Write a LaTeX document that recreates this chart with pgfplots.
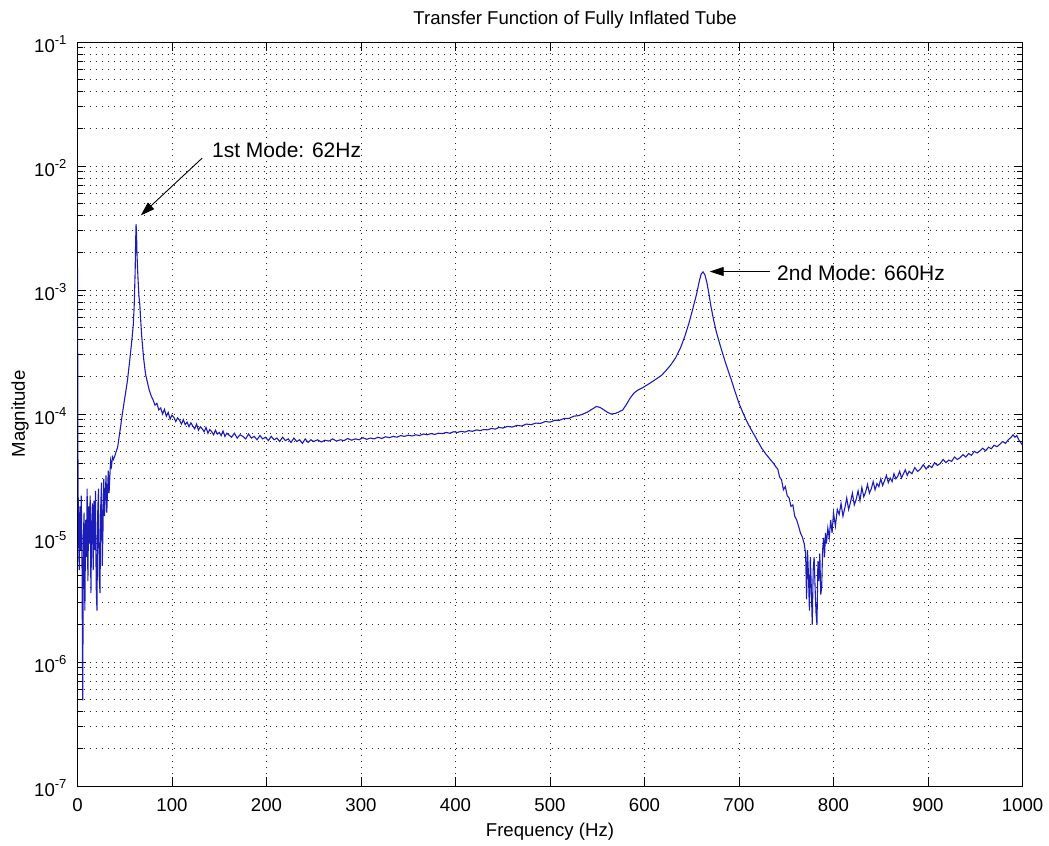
\documentclass[border=0pt]{standalone}
\usepackage{fontspec}
\setmainfont{Liberation Sans}
\usepackage{pgfplots}
\pgfplotsset{compat=1.18}
\usetikzlibrary{arrows.meta}
\definecolor{mblue}{RGB}{28,28,185}
\pgfplotstableread{
x y
0 1.5e-3
0.5 3.6e-5
1 1.2e-5
1.8 5.5e-6
2.5 1.8e-5
3.2 8e-6
4 2.2e-5
4.8 6e-6
5.5 4.9e-7
6.3 1.1e-5
7 1.6e-5
7.8 2.6e-6
8.6 1.4e-5
9.4 7e-6
10.2 2.5e-5
11 4.5e-6
11.8 1.8e-5
12.6 9e-6
13.4 2.2e-5
14.2 3.6e-6
15 1.3e-5
15.8 1.9e-5
16.6 5.5e-6
17.4 2e-5
18.2 8e-6
19 2.4e-5
19.8 4e-6
20.6 2.6e-6
21.4 1.6e-5
22.2 2.5e-5
23 5e-6
23.8 3.6e-6
24.6 1.8e-5
25.4 2.8e-5
26.2 6e-6
27 1.2e-5
27.8 3e-5
28.6 1.5e-5
29.4 2.2e-5
30.2 3.2e-5
31 1.6e-5
31.8 2.4e-5
32.6 3.5e-5
33.4 2.3e-5
34.2 3.1e-5
35 4.2e-5
36 3.8e-5
37 4.5e-5
38 4.3e-5
39.5 4.6e-5
41 5e-5
42.5 5.4e-5
44 6.5e-5
45.5 7.8e-5
47 9.5e-5
49 1.2e-4
51 1.5e-4
53 1.9e-4
55 2.6e-4
57 3.6e-4
59 5.2e-4
60 7.5e-4
61 1.4e-3
61.5 2.4e-3
62 3.4e-3
62.5 2.8e-3
63 1.9e-3
64 1.25e-3
65 9e-4
66 7.5e-4
67 5.5e-4
68 4.2e-4
70 2.8e-4
72 2.1e-4
74 1.8e-4
76 1.55e-4
78 1.4e-4
80 1.3e-4
82 1.18e-4
84 1.22e-4
86 1.08e-4
88 1.12e-4
90 1.0e-4
92 1.09e-4
94 9.6e-5
96 1.03e-4
98 9.1e-5
100 9.8e-5
102 9.4e-5
104 8.7e-5
106 9.3e-5
108 8.9e-5
110 8.3e-5
112 9.0e-5
114 8.2e-5
116 8.6e-5
118 7.9e-5
120 8.5e-5
122 8.0e-5
124 7.6e-5
126 8.3e-5
128 7.4e-5
130 7.9e-5
132 7.6e-5
134 7.2e-5
136 7.8e-5
138 7.0e-5
140 7.5e-5
142 7.2e-5
144 6.8e-5
146 7.4e-5
148 6.9e-5
150 7.1e-5
152 6.7e-5
154 7.3e-5
156 6.6e-5
158 7.0e-5
160 6.8e-5
163 6.5e-5
166 7.0e-5
169 6.4e-5
172 6.8e-5
175 6.6e-5
178 6.3e-5
181 6.9e-5
184 6.4e-5
187 6.6e-5
190 6.2e-5
193 6.7e-5
196 6.3e-5
199 6.5e-5
202 6.1e-5
205 6.6e-5
208 6.2e-5
211 6.4e-5
214 6.0e-5
217 6.5e-5
220 6.1e-5
223 6.3e-5
226 5.9e-5
229 6.4e-5
232 6.0e-5
235 6.2e-5
238 5.8e-5
241 6.3e-5
244 5.9e-5
247 6.2e-5
250 6.0e-5
254 6.2e-5
258 5.95e-5
262 6.15e-5
266 6.05e-5
270 6.3e-5
274 6.05e-5
278 6.2e-5
282 6.1e-5
286 6.35e-5
290 6.15e-5
294 6.3e-5
298 6.2e-5
302 6.45e-5
306 6.25e-5
310 6.4e-5
314 6.3e-5
318 6.5e-5
322 6.35e-5
326 6.55e-5
330 6.45e-5
334 6.6e-5
338 6.5e-5
342 6.7e-5
346 6.6e-5
350 6.75e-5
354 6.65e-5
358 6.8e-5
362 6.7e-5
366 6.9e-5
370 6.8e-5
374 6.95e-5
378 6.85e-5
382 7.0e-5
386 6.95e-5
390 7.1e-5
394 7.0e-5
398 7.2e-5
402 7.1e-5
406 7.25e-5
410 7.15e-5
414 7.35e-5
418 7.25e-5
422 7.45e-5
426 7.35e-5
430 7.5e-5
434 7.45e-5
438 7.65e-5
442 7.55e-5
446 7.8e-5
450 7.7e-5
455 7.95e-5
460 7.85e-5
465 8.1e-5
470 8.0e-5
475 8.3e-5
480 8.2e-5
485 8.45e-5
490 8.4e-5
495 8.7e-5
500 8.6e-5
505 8.9e-5
510 8.9e-5
515 9.2e-5
520 9.2e-5
525 9.6e-5
530 9.7e-5
535 1.0e-4
540 1.04e-4
545 1.1e-4
549 1.15e-4
553 1.13e-4
557 1.08e-4
561 1.03e-4
565 1.0e-4
569 1.01e-4
573 1.04e-4
577 1.08e-4
581 1.2e-4
585 1.35e-4
589 1.48e-4
593 1.56e-4
598 1.63e-4
603 1.72e-4
608 1.82e-4
613 1.93e-4
618 2.05e-4
623 2.25e-4
628 2.5e-4
633 2.85e-4
638 3.4e-4
643 4.3e-4
647 5.4e-4
651 7e-4
655 9.2e-4
658 1.18e-3
660 1.35e-3
662 1.4e-3
664 1.32e-3
666 1.15e-3
668 9.5e-4
670 7.6e-4
673 5.8e-4
676 4.6e-4
680 3.6e-4
684 2.85e-4
688 2.3e-4
692 1.87e-4
696 1.5e-4
700 1.22e-4
704 1.03e-4
708 8.8e-5
712 7.7e-5
716 6.8e-5
720 6.0e-5
724 5.3e-5
728 4.8e-5
732 4.4e-5
736 4.05e-5
739 3.75e-5
741 3.6e-5
743 3.1e-5
745 2.95e-5
747 2.45e-5
749 2.6e-5
751 2.2e-5
753 2.1e-5
755 1.8e-5
757 1.85e-5
759 1.5e-5
761 1.4e-5
763 1.25e-5
765 1.1e-5
767 1.02e-5
769 9.0e-6
770.5 7.5e-6
771.5 3.2e-6
772.5 8e-6
773.5 5e-6
774.5 2.6e-6
775.5 7e-6
776.5 4e-6
777.5 2.0e-6
778.5 5.5e-6
779.5 7e-6
780.5 4e-6
781.5 2.5e-6
782.5 2.0e-6
783.5 6.5e-6
784.5 4.5e-6
785.5 7.5e-6
786.5 3.5e-6
787.5 4.0e-6
788.5 8e-6
789.5 1.0e-5
790.5 7e-6
791.5 1.1e-5
792.5 9e-6
794 1.2e-5
795.5 1.0e-5
797 1.4e-5
798.5 1.1e-5
800 1.6e-5
802 1.25e-5
804 1.7e-5
806 1.55e-5
808 1.9e-5
810 1.5e-5
812 1.75e-5
814 2.1e-5
816 1.7e-5
818 1.95e-5
820 2.3e-5
822 1.85e-5
824 2.05e-5
826 2.4e-5
828 2.0e-5
830 2.55e-5
832 2.15e-5
834 2.35e-5
836 2.7e-5
838 2.3e-5
840 2.5e-5
842 2.85e-5
844 2.45e-5
846 2.75e-5
848 2.6e-5
850 3.0e-5
852 2.65e-5
854 2.9e-5
856 3.2e-5
858 2.8e-5
860 3.05e-5
862 2.85e-5
864 3.3e-5
866 3.0e-5
868 3.15e-5
870 3.45e-5
872 3.05e-5
874 3.3e-5
876 3.55e-5
878 3.2e-5
880 3.45e-5
883 3.3e-5
886 3.7e-5
889 3.45e-5
892 3.6e-5
895 3.9e-5
898 3.6e-5
901 3.85e-5
904 3.7e-5
907 4.05e-5
910 3.85e-5
913 4.0e-5
916 4.3e-5
919 4.05e-5
922 4.25e-5
925 4.15e-5
928 4.5e-5
931 4.3e-5
934 4.45e-5
937 4.7e-5
940 4.5e-5
943 4.8e-5
946 4.65e-5
949 5.0e-5
952 4.85e-5
955 5.05e-5
958 5.3e-5
961 5.05e-5
964 5.4e-5
967 5.25e-5
970 5.6e-5
973 5.45e-5
976 5.7e-5
979 6.0e-5
982 5.8e-5
985 6.2e-5
988 6.5e-5
990 6.8e-5
992 6.5e-5
994 6.7e-5
996 6.2e-5
998 5.9e-5
1000 5.6e-5
}\tfdata

\begin{document}
\begin{tikzpicture}
\useasboundingbox (-38.75bp,-30bp) rectangle (485.75bp,393bp);
\begin{axis}[
  at={(0,0)}, anchor=south west,
  scale only axis, width=472.5bp, height=372bp,
  ymode=log, log basis y=10,
  xmin=0, xmax=1000, ymin=1e-7, ymax=1e-1,
  xtick={0,100,...,1000},
  ytick={1e-7,1e-6,1e-5,1e-4,1e-3,1e-2,1e-1},
  minor ytick={2e-7,3e-7,4e-7,5e-7,6e-7,7e-7,8e-7,9e-7,
               2e-6,3e-6,4e-6,5e-6,6e-6,7e-6,8e-6,9e-6,
               2e-5,3e-5,4e-5,5e-5,6e-5,7e-5,8e-5,9e-5,
               2e-4,3e-4,4e-4,5e-4,6e-4,7e-4,8e-4,9e-4,
               2e-3,3e-3,4e-3,5e-3,6e-3,7e-3,8e-3,9e-3,
               2e-2,3e-2,4e-2,5e-2,6e-2,7e-2,8e-2,9e-2},
  yticklabels={10\textsuperscript{-7},10\textsuperscript{-6},10\textsuperscript{-5},10\textsuperscript{-4},10\textsuperscript{-3},10\textsuperscript{-2},10\textsuperscript{-1}},
  /pgf/number format/assume math mode=true,
  /pgf/number format/1000 sep={},
  tick align=inside,
  major tick length=4.5bp, minor tick length=2.8bp,
  every tick/.style={black, line width=0.5bp},
  axis line style={black, line width=0.5bp},
  grid=both,
  major grid style={black!85, line width=0.5bp, dash pattern=on 0.5bp off 2.5bp},
  minor grid style={black!85, line width=0.5bp, dash pattern=on 0.5bp off 2.5bp},
  minor x tick num=0,
  ticklabel style={font=\fontsize{9.3bp}{11bp}\selectfont},
  xticklabel style={anchor=base, yshift=-12.5bp},
  yticklabel style={anchor=east, xshift=-1.5bp, yshift=-1bp},
  xlabel={Frequency (Hz)},
  xlabel style={at={(axis description cs:0.5,-0.0685)}, anchor=base, font=\fontsize{9.3bp}{11bp}\selectfont},
  ylabel={Magnitude},
  ylabel style={at={(axis description cs:-0.0608,0.5)}, anchor=center, rotate=0, font=\fontsize{9.3bp}{11bp}\selectfont},
]
\addplot[mblue, line width=0.55bp] table {\tfdata};
\draw[black, line width=0.45bp, -{Triangle[length=7bp,width=4.5bp]}] (axis cs:132,1.16e-2) -- (axis cs:67,4.0e-3);
\node[anchor=west, inner sep=0pt, font=\fontsize{10.5bp}{12bp}\selectfont] at (axis cs:142,1.35e-2) {1st Mode: 62Hz};
\draw[black, line width=0.45bp, -{Triangle[length=7bp,width=4.5bp]}] (axis cs:733,1.41e-3) -- (axis cs:669,1.41e-3);
\node[anchor=west, inner sep=0pt, font=\fontsize{10.5bp}{12bp}\selectfont] at (axis cs:740,1.37e-3) {2nd Mode: 660Hz};
\end{axis}
\node[anchor=base, inner sep=0pt, font=\fontsize{9.3bp}{11bp}\selectfont] at (248.8bp,380.75bp) {Transfer Function of Fully Inflated Tube};
\end{tikzpicture}
\end{document}
